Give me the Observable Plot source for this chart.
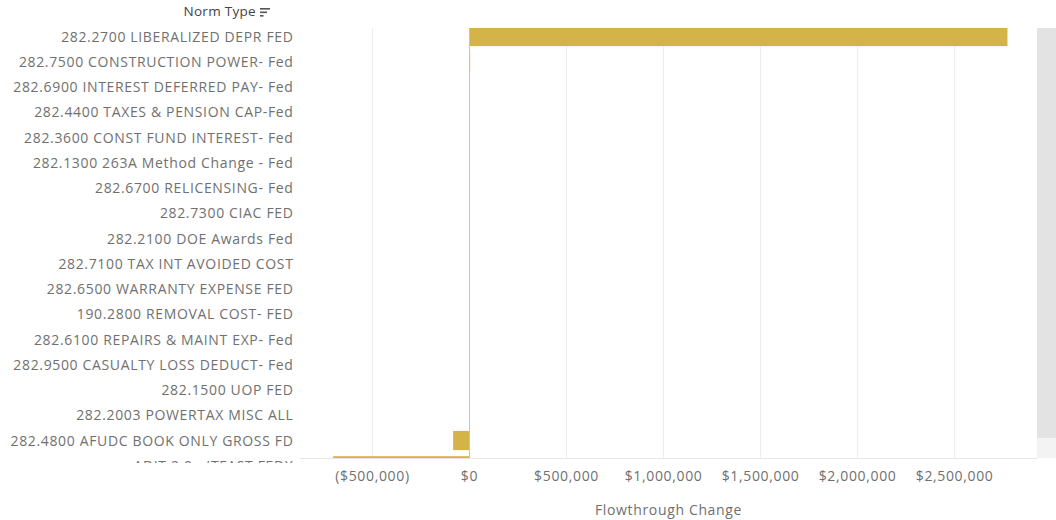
<!DOCTYPE html>
<html>
<head>
<meta charset="utf-8">
<script src="https://cdn.jsdelivr.net/npm/d3@7"></script>
<script src="https://cdn.jsdelivr.net/npm/@observablehq/plot@0.6"></script>
<style>
  html, body { margin: 0; padding: 0; background: #fff; }
  #wrap { position: relative; width: 1056px; height: 520px; overflow: hidden; font-family: "Open Sans", "Noto Sans", sans-serif; }
  #hdr { position: absolute; left: 0; width: 270px; top: 2px; text-align: right; font-size: 13.5px; letter-spacing: 0.3px; color: #444; }
  #hdr svg { vertical-align: middle; margin-left: 4px; }
  #sb1 { position: absolute; left: 1037px; top: 28px; width: 19px; height: 410px; background: #e3e3e3; }
  #sb2 { position: absolute; left: 1037px; top: 438px; width: 19px; height: 20px; background: #f3f3f3; }
  #mask { position: absolute; left: 0; top: 463px; width: 300px; height: 14px; background: #fff; }
</style>
</head>
<body>
<div id="wrap">
  <div id="chart"></div>
  <div id="hdr">Norm Type<svg width="10" height="10"><rect x="0" y="1" width="10" height="1.6" fill="#555"/><rect x="0" y="4.5" width="7" height="1.6" fill="#555"/><rect x="0" y="8" width="3.5" height="1.6" fill="#555"/></svg></div>
  <div id="sb1"></div>
  <div id="sb2"></div>
  <div id="mask"></div>
</div>
<script>
const normTypes = [
  "282.2700 LIBERALIZED DEPR FED",
  "282.7500 CONSTRUCTION POWER- Fed",
  "282.6900 INTEREST DEFERRED PAY- Fed",
  "282.4400 TAXES & PENSION CAP-Fed",
  "282.3600 CONST FUND INTEREST- Fed",
  "282.1300 263A Method Change - Fed",
  "282.6700 RELICENSING- Fed",
  "282.7300 CIAC FED",
  "282.2100 DOE Awards Fed",
  "282.7100 TAX INT AVOIDED COST",
  "282.6500 WARRANTY EXPENSE FED",
  "190.2800 REMOVAL COST- FED",
  "282.6100 REPAIRS & MAINT EXP- Fed",
  "282.9500 CASUALTY LOSS DEDUCT- Fed",
  "282.1500 UOP FED",
  "282.2003 POWERTAX MISC ALL",
  "282.4800 AFUDC BOOK ONLY GROSS FD",
  "ADIT 2.0 - ITFAST FEDX"
];
const flowthroughChange = [
  2775000, 6000, 5000, 4500, 4000, 3500, 3000, 2500, 2000,
  1500, 1200, 1000, 800, 500, 300, 100, -82000, -700000
];
const xTicks = [-500000, 0, 500000, 1000000, 1500000, 2000000, 2500000];

const data = normTypes.map((n, i) => ({norm: n, value: flowthroughChange[i]}));
const fmt = d3.format(",");
const money = d => d < 0 ? `($${fmt(-d)})` : `$${fmt(d)}`;

const W = 1056, H = 520, mT = 28, mB = 62, mL = 300, mR = 20;
const rowStep = 25.25, rowStart = 23.9;
const FONT = "'Open Sans', 'Noto Sans', sans-serif";

const chart = Plot.plot({
  width: W,
  height: H,
  marginTop: mT,
  marginBottom: mB,
  marginLeft: mL,
  marginRight: mR,
  style: {fontFamily: FONT, fontSize: "14px", letterSpacing: "0.65px", color: "#707070", background: "#fff"},
  x: {domain: [-871000, 2922000]},
  y: {domain: normTypes, range: [rowStart, rowStart + normTypes.length * rowStep],
      paddingInner: 0.24, paddingOuter: 0.12, round: false},
  marks: [
    Plot.gridX(xTicks, {stroke: "#ececec", strokeOpacity: 1}),
    Plot.frame({anchor: "bottom", stroke: "#e6e6e6"}),
    Plot.barX(data, {x: "value", y: "norm", fill: "#d4b449", clip: true}),
    Plot.ruleX([0], {stroke: "#cfc4a0", strokeWidth: 1}),
    Plot.axisY({tickSize: 0, tickPadding: 7, fill: "#707070", fontSize: 14, label: null}),
    Plot.axisX({ticks: xTicks, tickFormat: money, tickSize: 0, tickPadding: 13, fill: "#707070", fontSize: 14,
      label: "Flowthrough Change", labelAnchor: "center", labelArrow: "none", labelOffset: 56})
  ]
});
document.getElementById("chart").appendChild(chart);
</script>
</body>
</html>
